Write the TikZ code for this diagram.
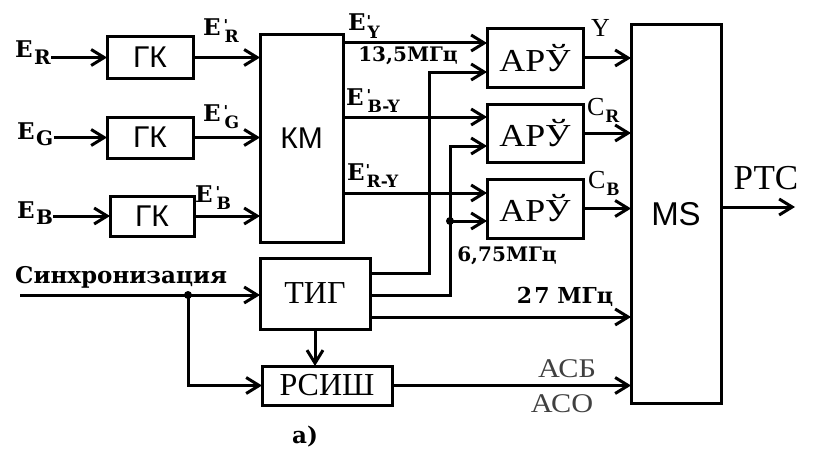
\documentclass[tikz,border=0pt]{standalone}
\usepackage{fontspec}
\setmainfont{Liberation Serif}
\newfontfamily\sansf{Liberation Sans}
\newfontfamily\dvs{DejaVu Serif}
\newfontfamily\wserif[FakeStretch=1.12]{Liberation Serif}
\usetikzlibrary{arrows.meta}
\newcommand{\myE}[1]{E\kern1.5pt\raisebox{-6pt}{\fontsize{20}{20}\selectfont #1}}
\newcommand{\myEp}[2]{E\kern#2\rlap{\raisebox{5pt}{\fontsize{15}{15}\selectfont '}}\kern1pt\raisebox{-7pt}{\fontsize{17}{17}\selectfont #1}}
\newcommand{\myC}[1]{C\kern1pt\raisebox{-7pt}{\fontsize{19}{19}\selectfont\bfseries #1}}
\begin{document}
\begin{tikzpicture}[x=1pt,y=-1pt,
  box/.style={draw, line width=3pt, outer sep=0pt, inner sep=0pt},
  sbox/.style={box, font=\sansf\fontsize{30}{30}\selectfont},
  rbox/.style={box, font=\wserif\fontsize{32}{32}\selectfont},
  ln/.style={line width=3pt},
  arr/.style={ln, -{Straight Barb[length=13pt,width=16pt,line width=3pt]}},
  lab/.style={inner sep=0pt, font=\dvs\bfseries\fontsize{20}{20}\selectfont},
  elab/.style={inner sep=0pt, anchor=base west, font=\dvs\bfseries\fontsize{23}{23}\selectfont},
  rlab/.style={inner sep=0pt, font=\fontsize{26}{26}\selectfont},
  dot/.style={circle, fill, inner sep=0pt, minimum size=8pt}]
\useasboundingbox (0,0) rectangle (832,452);
% blocks
\node[sbox, minimum width=86pt, minimum height=41pt] (gk1) at (150,57.5) {ГК};
\node[sbox, minimum width=86pt, minimum height=41pt] (gk2) at (150,137.5) {ГК};
\node[sbox, minimum width=84pt, minimum height=40pt] (gk3) at (152,216) {ГК};
\node[sbox, minimum width=83pt, minimum height=207pt] (km) at (301.5,138.5) {КМ};
\node[rbox, minimum width=96pt, minimum height=58pt] (aru1) at (535,58) {АРЎ};
\node[rbox, minimum width=96pt, minimum height=58pt] (aru2) at (535,133) {АРЎ};
\node[rbox, minimum width=96pt, minimum height=59pt] (aru3) at (535,208.5) {АРЎ};
\node[sbox, minimum width=90pt, minimum height=378pt, font=\sansf\fontsize{33}{33}\selectfont] (ms) at (676,214) {MS};
\node[rbox, minimum width=110pt, minimum height=71pt, font=\fontsize{32}{32}\selectfont] (tig) at (315,293.5) {ТИГ};
\node[rbox, minimum width=130pt, minimum height=39pt, font=\fontsize{32}{32}\selectfont] (rsish) at (327,385.5) {РСИШ};
% input labels
\node[elab] (er) at (15,58) {\myE{R}};
\node[elab] (eg) at (17,139) {\myE{G}};
\node[elab] (eb) at (17,218) {\myE{B}};
\draw[arr] (er.east |- gk1.west) -- (gk1.west);
\draw[arr] (eg.east |- gk2.west) -- (gk2.west);
\draw[arr] (eb.east |- gk3.west) -- (gk3.west);
% GK -> KM
\draw[arr] (gk1.east) -- (km.west |- gk1.east);
\draw[arr] (gk2.east) -- (km.west |- gk2.east);
\draw[arr] (gk3.east) -- (km.west |- gk3.east);
\node[elab] (epr) at (203,36) {\myEp{R}{3pt}};
\node[elab] (epg) at (203,121) {\myEp{G}{3pt}};
\node[elab] (epb) at (195,202) {\myEp{B}{3pt}};
% ARU inputs
\coordinate (a1a) at (487,43);
\coordinate (a1b) at (487,72);
\coordinate (a2a) at (487,117);
\coordinate (a2b) at (487,146);
\coordinate (a3a) at (487,193);
\coordinate (a3b) at (487,221);
\draw[arr] (km.east |- a1a) -- (a1a);
\draw[arr] (km.east |- a2a) -- (a2a);
\draw[arr] (km.east |- a3a) -- (a3a);
\node[elab] (epy) at (348,31) {\myEp{Y}{1pt}};
\node[elab] (epby) at (346,105) {\myEp{B-Y}{3pt}};
\node[elab] (epry) at (347,180) {\myEp{R-Y}{1pt}};
\node[lab] (f135) at (408,56) {13,5МГц};
% TIG outputs
\coordinate (c1) at (429,273);
\coordinate (c2) at (450,295);
\coordinate (m27) at (631,317);
\draw[arr] (tig.east |- c1) -- (c1) |- (a1b);
\draw[arr] (tig.east |- c2) -- (c2) |- (a2b);
\draw[arr] (c2 |- a3b) -- (a3b);
\node[dot] (d1) at (c2 |- a3b) {};
\draw[arr] (tig.east |- m27) -- (m27);
\node[lab] (f675) at (507,256) {6,75МГц};
\node[lab, font=\dvs\bfseries\fontsize{22}{22}\selectfont] (f27) at (565,297) {2\kern2pt7 МГц};
% ARU -> MS
\draw[arr] (aru1.east) -- (ms.west |- aru1.east);
\draw[arr] (aru2.east) -- (ms.west |- aru2.east);
\draw[arr] (aru3.east) -- (ms.west |- aru3.east);
\node[rlab, anchor=base west] (ly) at (591,37) {Y};
\node[rlab, anchor=base west] (lcr) at (587,115) {\myC{R}};
\node[rlab, anchor=base west] (lcb) at (588,188) {\myC{B}};
% MS output
\coordinate (out) at (795,207);
\draw[arr] (ms.east |- out) -- (out);
\node[rlab, font=\fontsize{35}{35}\selectfont] (rtc) at (766,178) {РТС};
% sync
\coordinate (s0) at (20,295);
\coordinate (sd) at (188,295);
\draw[arr] (s0) -- (tig.west |- s0);
\node[dot] (d2) at (sd) {};
\draw[arr] (sd) |- (rsish.west);
\node[lab, anchor=base west, font=\dvs\bfseries\fontsize{23}{23}\selectfont] (sync) at (15,283) {Синхронизация};
\draw[arr] (tig.south) -- (tig.south |- rsish.north);
% RSISH -> MS
\draw[arr] (rsish.east) -- (ms.west |- rsish.east);
\node[rlab, text=black!75, font=\wserif\fontsize{27}{27}\selectfont] (asb) at (567,369) {АСБ};
\node[rlab, text=black!75, font=\wserif\fontsize{27}{27}\selectfont] (aso) at (562,404) {АСО};
\node[lab, font=\dvs\bfseries\fontsize{23}{23}\selectfont] (cap) at (305,437) {а)};
\end{tikzpicture}
\end{document}
